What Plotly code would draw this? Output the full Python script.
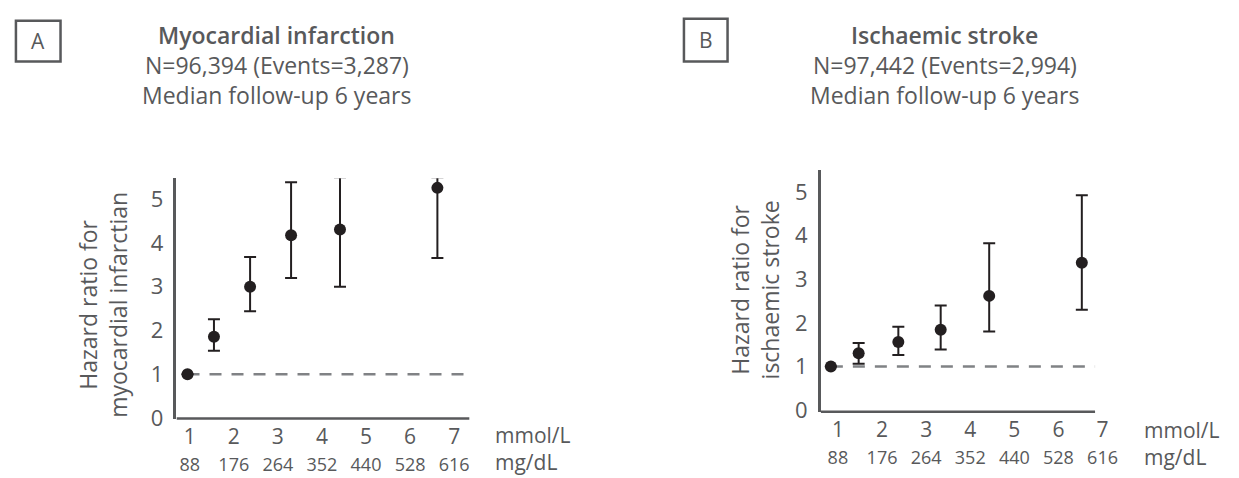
import plotly.graph_objects as go

W, H = 1239, 478

# ---- data ----
mmol_ticks = [1, 2, 3, 4, 5, 6, 7]
mgdl_ticks = [88, 176, 264, 352, 440, 528, 616]
hr_ticks = [0, 1, 2, 3, 4, 5]

# Panel A: myocardial infarction
mi_x = [0.95, 1.55, 2.37, 3.30, 4.41, 6.62]
mi_hr = [1.0, 1.86, 3.00, 4.18, 4.31, 5.26]
mi_lo = [1.0, 1.54, 2.44, 3.20, 3.00, 3.66]
mi_hi = [1.0, 2.26, 3.68, 5.39, 5.50, 5.50]

# Panel B: ischaemic stroke
is_x = [0.84, 1.47, 2.37, 3.33, 4.43, 6.53]
is_hr = [1.0, 1.30, 1.56, 1.84, 2.62, 3.38]
is_lo = [1.0, 1.06, 1.26, 1.39, 1.80, 2.30]
is_hi = [1.0, 1.54, 1.91, 2.40, 3.83, 4.93]

ref_hr = 1

titles_a = ["Myocardial infarction", "N=96,394 (Events=3,287)", "Median follow-up 6 years"]
titles_b = ["Ischaemic stroke", "N=97,442 (Events=2,994)", "Median follow-up 6 years"]
ytitle_a = "Hazard ratio for<br>myocardial infarctian"
ytitle_b = "Hazard ratio for<br>ischaemic stroke"

# ---- style ----
FONT = "Open Sans"
GREY = "#58595b"
INK = "#231f20"
DASH = "#808285"


def fx(px):
    return px / W


def fy(py):
    return 1 - py / H


fig = go.Figure()


def add_panel(xs, hr, lo, hi, xa, ya):
    fig.add_trace(go.Scatter(
        x=xs, y=hr, mode="markers", xaxis=xa, yaxis=ya,
        marker=dict(size=12, color=INK),
        error_y=dict(type="data", symmetric=False,
                     array=[h - v for h, v in zip(hi, hr)],
                     arrayminus=[v - l for v, l in zip(hr, lo)],
                     color=INK, thickness=2, width=6),
        showlegend=False, hoverinfo="skip", cliponaxis=False,
    ))


add_panel(mi_x, mi_hr, mi_lo, mi_hi, "x", "y")
add_panel(is_x, is_hr, is_lo, is_hi, "x2", "y2")

tick_text = [f"{m}<br><span style='font-size:18px'>{g}</span>" for m, g in zip(mmol_ticks, mgdl_ticks)]

xcommon = dict(tickvals=mmol_ticks, ticktext=tick_text, showline=False,
               ticks="", showgrid=False, zeroline=False,
               tickfont=dict(family=FONT, size=21, color=GREY), ticklabelstandoff=3)
ycommon = dict(tickvals=hr_ticks, showline=True, linecolor=GREY, linewidth=2.5,
               ticks="", showgrid=False, zeroline=False,
               tickfont=dict(family=FONT, size=22, color=GREY), ticklabelstandoff=6)

# axis spans (line extent) and visible ranges (to keep the last tick label)
xa_line = [0.70, 7.35]
xb_line = [0.61, 6.83]
xa_range = [0.70, 7.35]
xb_range = [0.61, 7.10]
fig.update_layout(
    width=W, height=H, margin=dict(l=0, r=0, t=0, b=0),
    paper_bgcolor="white", plot_bgcolor="white",
    xaxis=dict(domain=[fx(170), fx(465.7)], range=xa_range, anchor="y", **xcommon),
    yaxis=dict(domain=[fy(422), fy(175)], range=[-0.01, 5.48], anchor="x", **ycommon),
    xaxis2=dict(domain=[fx(820), fx(820 + (xb_range[1] - xb_range[0]) * 44.5)], range=xb_range,
                anchor="y2", **xcommon),
    yaxis2=dict(domain=[fy(415), fy(167)], range=[-0.04, 5.50], anchor="x2", **ycommon),
)

# x-axis lines
for xr, yr, span in [("x", "y domain", xa_line), ("x2", "y2 domain", xb_line)]:
    fig.add_shape(type="line", xref=xr, yref=yr, x0=span[0], x1=span[1], y0=0, y1=0,
                  line=dict(color=GREY, width=2.5))

# reference dashed lines
fig.add_shape(type="line", xref="x", yref="y", x0=mi_x[0], x1=xa_line[1] - 0.05, y0=ref_hr, y1=ref_hr,
              line=dict(color=DASH, width=2.5, dash="12px,10px"), layer="below")
fig.add_shape(type="line", xref="x2", yref="y2", x0=is_x[0], x1=xb_line[1], y0=ref_hr, y1=ref_hr,
              line=dict(color=DASH, width=2.5, dash="12px,10px"), layer="below")

# panel letter boxes
for (x0, x1, y0, y1, letter, cx) in [(8, 53, 13, 55, "A", 30.5), (682, 726, 11, 55, "B", 704)]:
    fig.add_shape(type="rect", xref="paper", yref="paper", x0=fx(x0), x1=fx(x1), y0=fy(y1), y1=fy(y0),
                  line=dict(color=GREY, width=2.5))
    fig.add_annotation(text=letter, xref="paper", yref="paper", x=fx(cx), y=fy((y0 + y1) / 2),
                       showarrow=False, xanchor="center", yanchor="middle",
                       font=dict(family=FONT, size=21, color=GREY))

# titles
for lines, cx in [(titles_a, 271), (titles_b, 945)]:
    for i, (txt, cy) in enumerate(zip(lines, [28, 58.5, 89])):
        fig.add_annotation(text=txt, xref="paper", yref="paper", x=fx(cx), y=fy(cy),
                           showarrow=False, xanchor="center", yanchor="middle", borderpad=0,
                           font=dict(family=FONT, size=23, color=GREY, weight=600 if i == 0 else 400))

# y-axis titles
for txt, cx, cy in [(ytitle_a, 96, 305), (ytitle_b, 754, 290)]:
    fig.add_annotation(text=txt, xref="paper", yref="paper", x=fx(cx), y=fy(cy),
                       showarrow=False, xanchor="center", yanchor="middle", textangle=-90,
                       font=dict(family=FONT, size=23, color=GREY))

# unit labels
for lx, y1, y2 in [(490, 439, 467), (1145, 434, 462)]:
    fig.add_annotation(text="mmol/L", xref="paper", yref="paper", x=fx(lx), y=fy(y1),
                       showarrow=False, xanchor="left", yanchor="middle", borderpad=0,
                       font=dict(family=FONT, size=21, color=GREY))
    fig.add_annotation(text="mg/dL", xref="paper", yref="paper", x=fx(lx), y=fy(y2),
                       showarrow=False, xanchor="left", yanchor="middle", borderpad=0,
                       font=dict(family=FONT, size=21, color=GREY))

fig.write_html("out.html")
